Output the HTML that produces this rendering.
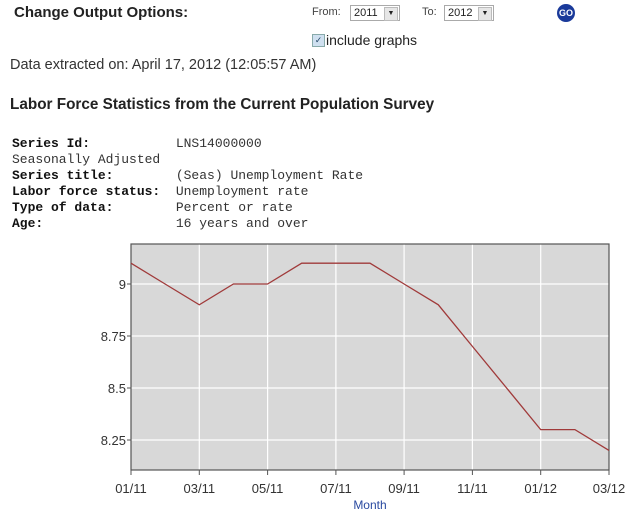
<!DOCTYPE html>
<html><head><style>
body{margin:0;width:640px;height:519px;background:#fff;position:relative;overflow:hidden;font-family:"Liberation Sans",Arial,sans-serif;color:#222}
.a{position:absolute;white-space:nowrap}
.sel{position:absolute;height:16px;border:1px solid #aaa;background:#fff;font-size:11px;line-height:15px;padding-left:3px;box-sizing:border-box}
.sel i{position:absolute;right:1px;top:1px;width:12px;height:12px;background:#e6e6e6;border:1px solid #bbb;font-style:normal;font-size:7px;text-align:center;line-height:12px}
.m{font-family:"Liberation Mono","Courier New",monospace;font-size:13px;color:#333;line-height:16px;white-space:pre}
.m b{color:#111}
</style></head><body>
<div class="a" style="left:14px;top:4px;font-size:15px;font-weight:bold">Change Output Options:</div>
<div class="a" style="left:312px;top:6px;font-size:11px;color:#444">From:</div>
<div class="sel" style="left:350px;top:5px;width:50px">2011<i>▼</i></div>
<div class="a" style="left:422px;top:6px;font-size:11px;color:#444">To:</div>
<div class="sel" style="left:444px;top:5px;width:50px">2012<i>▼</i></div>
<div class="a" style="left:557px;top:4px;width:18px;height:18px;border-radius:50%;background:#1a3a9a;color:#fff;font-size:9px;font-weight:bold;text-align:center;line-height:18px">GO</div>
<div class="a" style="left:312px;top:34px;width:11px;height:11px;border:1px solid #8aa;background:#cfe0f0;font-size:9px;line-height:11px;text-align:center;color:#246">✓</div>
<div class="a" style="left:326px;top:32px;font-size:14px">include graphs</div>
<div class="a" style="left:10px;top:57px;font-size:14.5px;color:#333">Data extracted on: April 17, 2012 (12:05:57 AM)</div>
<div class="a" style="left:10px;top:96px;font-size:15.3px;font-weight:bold">Labor Force Statistics from the Current Population Survey</div>
<div class="a m" style="left:12px;top:136px"><b>Series Id:</b>           LNS14000000
Seasonally Adjusted
<b>Series title:</b>        (Seas) Unemployment Rate
<b>Labor force status:</b>  Unemployment rate
<b>Type of data:</b>        Percent or rate
<b>Age:</b>                 16 years and over</div>
<svg class="a" style="left:0;top:0" width="640" height="519" font-family="Liberation Sans,Arial,sans-serif" font-size="13" fill="#333">
<rect x="131" y="244" width="478" height="226" fill="#d8d8d8"/>
<g stroke="#fff" stroke-width="1.2">
<line x1="131" x2="609" y1="284" y2="284"/><line x1="131" x2="609" y1="336" y2="336"/><line x1="131" x2="609" y1="388" y2="388"/><line x1="131" x2="609" y1="440" y2="440"/>
<line y1="244" y2="470" x1="199.3" x2="199.3"/><line y1="244" y2="470" x1="267.6" x2="267.6"/><line y1="244" y2="470" x1="335.9" x2="335.9"/><line y1="244" y2="470" x1="404.1" x2="404.1"/><line y1="244" y2="470" x1="472.4" x2="472.4"/><line y1="244" y2="470" x1="540.7" x2="540.7"/>
</g>
<rect x="131" y="244" width="478" height="226" fill="none" stroke="#555" stroke-width="1.2"/>
<g stroke="#555"><line x1="127" x2="131" y1="284" y2="284"/><line x1="127" x2="131" y1="336" y2="336"/><line x1="127" x2="131" y1="388" y2="388"/><line x1="127" x2="131" y1="440" y2="440"/>
<line y1="470" y2="475" x1="131" x2="131"/><line y1="470" y2="475" x1="199.3" x2="199.3"/><line y1="470" y2="475" x1="267.6" x2="267.6"/><line y1="470" y2="475" x1="335.9" x2="335.9"/><line y1="470" y2="475" x1="404.1" x2="404.1"/><line y1="470" y2="475" x1="472.4" x2="472.4"/><line y1="470" y2="475" x1="540.7" x2="540.7"/><line y1="470" y2="475" x1="609" x2="609"/></g>
<polyline fill="none" stroke="#a03a3a" stroke-width="1.3" points="131,263.2 165.1,284 199.3,304.8 233.4,284 267.6,284 301.7,263.2 335.9,263.2 370,263.2 404.1,284 438.3,304.8 472.4,346.4 506.6,388 540.7,429.6 574.9,429.6 609,450.4"/>
<g text-anchor="end"><text x="126" y="289">9</text><text x="126" y="341">8.75</text><text x="126" y="393">8.5</text><text x="126" y="445">8.25</text></g>
<g text-anchor="middle"><text x="131" y="493">01/11</text><text x="199.3" y="493">03/11</text><text x="267.6" y="493">05/11</text><text x="335.9" y="493">07/11</text><text x="404.1" y="493">09/11</text><text x="472.4" y="493">11/11</text><text x="540.7" y="493">01/12</text><text x="609" y="493">03/12</text>
<text x="370" y="509" font-size="12" fill="#2a4aa0">Month</text></g>
</svg>
</body></html>
